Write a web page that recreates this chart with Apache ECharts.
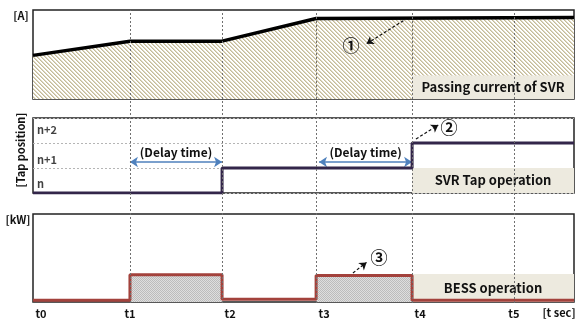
<!DOCTYPE html>
<html>
<head>
<meta charset="utf-8">
<script src="https://cdn.jsdelivr.net/npm/echarts@6/dist/echarts.min.js"></script>
<style>
  html, body { margin: 0; padding: 0; background: #fff; }
  #main { width: 576px; height: 321px; }
</style>
</head>
<body>
<div id="main"></div>
<script>
// time axis ticks (t0..t5) and end of the time window
const tNames = ['t0', 't1', 't2', 't3', 't4', 't5'];
const tPos = [0, 1, 1.95, 2.92, 3.91, 4.96];
const tEnd = 5.58;
const tShift = [1, 0, 1, 1, 1, 0]; // 1 = label sits right of its tick

// passing current of SVR [A]
const currentX = [0, 1, 1.95, 2.92, 5.58];
const currentY = [49, 65, 65, 90.5, 91.5];

// SVR tap position (0 = n, 1 = n+1, 2 = n+2)
const tapX = [0, 1.95, 1.95, 3.91, 3.91, 5.58];
const tapY = [0, 0, 1, 1, 2, 2];
const tapNames = ['n', 'n+1', 'n+2'];
const tapNameY = [0.36, 1.32, 2.52];

// BESS output [kW]
const bessX = [0, 1, 1, 1.95, 1.95, 2.92, 2.92, 3.91, 3.91, 5.58];
const bessY = [2, 2, 31, 31, 3, 3, 30, 30, 2, 2];

// delay time intervals
const delays = [[1, 1.95], [2.95, 3.91]];

const FONT = "'Noto Sans CJK KR', 'Noto Sans', sans-serif";

function makePattern(size, fn) {
  const c = document.createElement('canvas');
  c.width = size; c.height = size;
  const ctx = c.getContext('2d');
  ctx.fillStyle = '#ffffff';
  ctx.fillRect(0, 0, size, size);
  for (let x = 0; x < size; x++) {
    for (let y = 0; y < size; y++) {
      const col = fn(x, y);
      if (col) { ctx.fillStyle = col; ctx.fillRect(x, y, 1, 1); }
    }
  }
  return { image: c, repeat: 'repeat' };
}
const hatch = makePattern(4, (x, y) => {
  const k = ((x - y) % 4 + 4) % 4;
  return k === 0 ? '#c4bb98' : (k === 1 ? '#ddd7c2' : null);
});
const dots = makePattern(2, (x, y) => ((x + y) % 2 === 0 ? '#bcbcbc' : '#dedede'));

const grids = [
  { left: 33, right: 2, top: 10, height: 89 },
  { left: 33, right: 2, top: 118, height: 75 },
  { left: 33, right: 2, top: 214, height: 88 },
  { left: 33, right: 2, top: 10, height: 293 },
].map((g, i) => Object.assign(g, {
  show: i < 3, borderColor: '#222', borderWidth: 1.5, backgroundColor: 'transparent'
}));

const xAxes = [0, 1, 2, 3].map(i => ({
  type: 'value', gridIndex: i, min: 0, max: tEnd,
  axisLine: { show: false }, axisTick: { show: false }, splitLine: { show: false },
  axisLabel: i === 2 ? {
    show: true, customValues: tPos, margin: 6, color: '#111',
    fontFamily: FONT, fontWeight: 'bold', fontSize: 11,
    formatter: v => {
      const k = tPos.indexOf(v);
      return k < 0 ? '' : (tShift[k] ? '{s|' + tNames[k] + '}' : '{c|' + tNames[k] + '}');
    },
    rich: {
      s: { padding: [0, 0, 0, 16], fontFamily: FONT, fontWeight: 'bold', fontSize: 11, color: '#111' },
      c: { fontFamily: FONT, fontWeight: 'bold', fontSize: 11, color: '#111' }
    }
  } : { show: false }
}));

const yAxes = [
  { min: 0, max: 100 },
  { min: 0, max: 3, splitLine: { show: true, lineStyle: { color: '#b5b5b5', type: [2, 2] } }, interval: 1 },
  { min: 0, max: 100 },
  { min: 0, max: 1 },
].map((a, i) => Object.assign({
  type: 'value', gridIndex: i,
  axisLine: { show: false }, axisTick: { show: false }, axisLabel: { show: false },
  splitLine: { show: false }
}, a));

const labelFont = { fontFamily: FONT, fontWeight: 'bold', color: '#111' };

// one dashed curved arrow plus a circled number, drawn in a given panel
function annotation(panel, from, to, curveness, mark, at) {
  return {
    type: 'line', xAxisIndex: panel, yAxisIndex: panel, z: 7, data: [], silent: true,
    markLine: {
      z: 7, symbol: ['none', 'arrow'], symbolSize: 7, silent: true, label: { show: false },
      lineStyle: { color: '#111', width: 1.2, type: [3, 2], curveness },
      data: [[{ coord: from }, { coord: to }]]
    },
    markPoint: {
      z: 7, symbol: 'circle', symbolSize: 0,
      label: { show: true, formatter: mark, fontSize: 17, fontWeight: 'bold', color: '#111', fontFamily: FONT },
      data: [{ coord: at }]
    }
  };
}

function opBox(panel, name, top) {
  return {
    type: 'line', xAxisIndex: panel, yAxisIndex: panel, z: 4, data: [], silent: true,
    markArea: {
      z: 4, silent: true,
      itemStyle: { color: '#edeadf' },
      label: Object.assign({ position: 'inside', fontSize: 13 }, labelFont),
      data: [[{ name, coord: [tPos[4], 0] }, { coord: [tEnd, top] }]]
    }
  };
}

const series = [
  // vertical dashed time markers across all panels
  {
    type: 'line', xAxisIndex: 3, yAxisIndex: 3, data: [], z: 6, silent: true,
    markLine: {
      z: 6, symbol: 'none', silent: true, label: { show: false },
      lineStyle: { color: '#707070', width: 1, type: [2, 2] },
      data: tPos.slice(1).map(v => ({ xAxis: v }))
    }
  },
  // panel 1: passing current
  {
    type: 'line', xAxisIndex: 0, yAxisIndex: 0, z: 3,
    data: currentX.map((x, i) => [x, currentY[i]]),
    symbol: 'none', lineStyle: { color: '#000', width: 3.5 },
    areaStyle: { color: hatch, opacity: 1 }
  },
  opBox(0, 'Passing current of SVR', 26.5),
  annotation(0, [3.82, 88], [3.44, 62], 0.45, '①', [3.28, 60]),
  // panel 2: tap position
  opBox(1, 'SVR Tap operation', 1),
  {
    type: 'line', xAxisIndex: 1, yAxisIndex: 1, z: 5, data: [], silent: true,
    markLine: {
      silent: true, symbol: ['arrow', 'arrow'], symbolSize: [8, 8],
      lineStyle: { color: '#4f81bd', width: 1.5, type: 'solid' },
      label: Object.assign({ show: true, position: 'middle', formatter: '(Delay time)', fontSize: 12, distance: 4 }, labelFont),
      data: delays.map(d => [{ coord: [d[0], 1.24] }, { coord: [d[1], 1.24] }])
    }
  },
  {
    type: 'line', xAxisIndex: 1, yAxisIndex: 1, z: 5,
    data: tapX.map((x, i) => [x, tapY[i]]),
    symbol: 'none', lineStyle: { color: '#33264a', width: 3 }
  },
  {
    type: 'scatter', xAxisIndex: 1, yAxisIndex: 1, z: 5, symbolSize: 0,
    data: tapNames.map((n, i) => ({ value: [0.02, tapNameY[i]], name: n })),
    label: Object.assign({ show: true, position: 'right', distance: 2, formatter: p => p.name, fontSize: 11 }, labelFont)
  },
  annotation(1, [3.95, 2.16], [4.18, 2.72], -0.35, '②', [4.29, 2.6]),
  // panel 3: BESS
  opBox(2, 'BESS operation', 31.8),
  {
    type: 'line', xAxisIndex: 2, yAxisIndex: 2, z: 4,
    data: [[bessX[2], bessY[2]], [bessX[3], bessY[3]], '-', [bessX[6], bessY[6]], [bessX[7], bessY[7]]],
    symbol: 'none', lineStyle: { width: 0, opacity: 0 },
    areaStyle: { color: dots, opacity: 1 }
  },
  {
    type: 'line', xAxisIndex: 2, yAxisIndex: 2, z: 5,
    data: bessX.map((x, i) => [x, bessY[i]]),
    symbol: 'none', lineStyle: { color: '#a3423c', width: 3 }
  },
  annotation(2, [3.3, 33], [3.44, 45], 0.1, '③', [3.57, 51])
];

const txt = (text, x, y, rotation) => ({
  type: 'text', x, y, rotation: rotation || 0,
  style: { text, fontSize: 11, align: 'center', verticalAlign: 'middle', fill: '#111', fontFamily: FONT, fontWeight: 'bold' }
});
const graphic = [
  txt('[A]', 21, 16),
  txt('[kW]', 18, 220),
  txt('[Tap position]', 21, 150, Math.PI / 2),
  txt('[t sec]', 559, 313)
];

const myChart = echarts.init(document.getElementById('main'));
myChart.setOption({
  animation: false,
  grid: grids,
  xAxis: xAxes,
  yAxis: yAxes,
  series,
  graphic
});
</script>
</body>
</html>
